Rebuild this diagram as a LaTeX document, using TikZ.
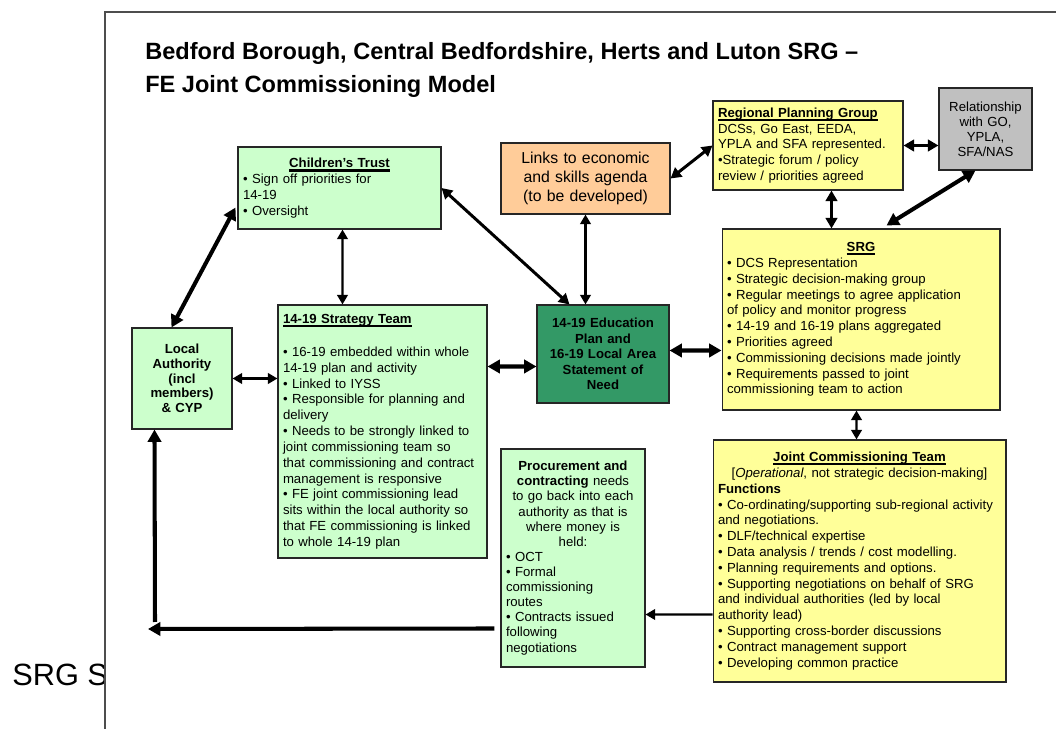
\documentclass[tikz,border=0pt]{standalone}
\usepackage{fontspec}
\setmainfont{Liberation Sans}
\usetikzlibrary{arrows.meta,calc}

% Box colours
\definecolor{paleyellow}{HTML}{FFFF99}
\definecolor{palegreen}{HTML}{CCFFCC}
\definecolor{paleorange}{HTML}{FFCC99}
\definecolor{boxgrey}{HTML}{C0C0C0}
\definecolor{plangreen}{HTML}{339966}
\definecolor{framegrey}{HTML}{4D4D4D}

% Bold heading with a heavy underline
\newcommand{\boxhead}[1]{\setbox0\hbox{\bfseries #1}\rlap{\rule[-2.2pt]{\wd0}{1.3pt}}\box0}

\tikzset{
    panel/.style={draw=black!85, line width=0.6pt, inner xsep=0.1cm, inner ysep=2pt,
        font=\fontsize{7.5}{9}\selectfont},
    link/.style={{Triangle[length=5.5pt,width=6pt]}-{Triangle[length=5.5pt,width=6pt]}, line width=1.4pt},
    midlink/.style={{Triangle[length=6pt,width=6.5pt]}-{Triangle[length=6pt,width=6.5pt]}, line width=1.7pt},
    biglink/.style={{Triangle[length=7pt,width=7.5pt]}-{Triangle[length=7pt,width=7.5pt]}, line width=2.3pt},
    onearrow/.style={-{Triangle[length=5.5pt,width=6pt]}, line width=1.2pt},
    bigarrow/.style={-{Triangle[length=7pt,width=7.5pt]}, line width=2.3pt}
}

\begin{document}
\begin{tikzpicture}[x=0.02cm, y=-0.02cm]

    % Fix the page to the size of the slide
    \useasboundingbox (0,0) rectangle (1056,729);
    \clip (0,0) rectangle (1056,729);

    % Caption on the left, partly hidden by the slide frame
    \node[anchor=base west, inner sep=0pt, font=\fontsize{17.5}{21}\selectfont] (caption) at (12,686) {SRG S};

    % The slide frame
    \draw[framegrey, line width=1.6pt, fill=white] (105,12) rectangle (1100,780);

    % Title, two lines
    \node[anchor=north west, inner sep=0pt, align=left, font=\bfseries\fontsize{13.4}{18.7}\selectfont] (title) at (145,42)
        {Bedford Borough, Central Bedfordshire, Herts and Luton SRG –\\FE Joint Commissioning Model};

    % Regional Planning Group (top right)
    \node[panel, fill=paleyellow, minimum width=3.8cm, minimum height=1.78cm, text width=3.6cm, align=left] (rpg) at (808,145.5)
        {\boxhead{Regional Planning Group}\\
         DCSs, Go East, EEDA,\\
         YPLA and SFA represented.\\
         •Strategic forum / policy\\
         review / priorities agreed};

    % Relationship box (grey)
    \node[panel, fill=boxgrey, minimum width=1.86cm, minimum height=1.64cm, text width=1.66cm, align=center,
        font=\fontsize{7.5}{8.6}\selectfont] (rel) at (985.5,129)
        {Relationship\\with GO,\\YPLA,\\SFA/NAS};

    % Children's Trust
    \node[panel, fill=palegreen, minimum width=4.06cm, minimum height=1.64cm, text width=3.86cm, align=left] (ct) at (339.5,188)
        {{\centering\boxhead{Children’s Trust}\par}
         • Sign off priorities for\\
         14-19\\
         • Oversight};

    % Links to economic and skills agenda
    \node[panel, fill=paleorange, minimum width=3.38cm, minimum height=1.42cm, text width=3.18cm, align=center,
        font=\fontsize{9}{10.8}\selectfont] (links) at (585.5,178.5)
        {Links to economic\\and skills agenda\\(to be developed)};

    % SRG
    \node[panel, fill=paleyellow, minimum width=5.56cm, minimum height=3.62cm, text width=5.36cm, align=left] (srg) at (861,319.5)
        {{\centering\boxhead{SRG}\par}
         • DCS Representation\\
         • Strategic decision-making group\\
         • Regular meetings to agree application\\
         of policy and monitor progress\\
         • 14-19 and 16-19 plans aggregated\\
         • Priorities agreed\\
         • Commissioning decisions made jointly\\
         • Requirements passed to joint\\
         commissioning team to action};

    % Local Authority
    \node[panel, fill=palegreen, minimum width=2cm, minimum height=2.02cm, text width=1.8cm, align=center,
        font=\bfseries\fontsize{7.5}{8.4}\selectfont] (la) at (182,378.5)
        {Local\\Authority\\(incl\\members)\\\& CYP};

    % 14-19 Strategy Team
    \node[panel, fill=palegreen, minimum width=4.18cm, minimum height=5.06cm, text width=3.98cm, align=left] (st) at (382.5,431.5)
        {\boxhead{14-19 Strategy Team}\\[10pt]
         • 16-19 embedded within whole\\
         14-19 plan and activity\\
         • Linked to IYSS\\
         • Responsible for planning and\\
         delivery\\
         • Needs to be strongly linked to\\
         joint commissioning team so\\
         that commissioning and contract\\
         management is responsive\\
         • FE joint commissioning lead\\
         sits within the local authority so\\
         that FE commissioning is linked\\
         to whole 14-19 plan};

    % 14-19 Education Plan (dark green)
    \node[panel, fill=plangreen, minimum width=2.64cm, minimum height=1.96cm, text width=2.44cm, align=center,
        font=\bfseries\fontsize{7.5}{8.9}\selectfont] (edu) at (603,354)
        {14-19 Education\\Plan and\\16-19 Local Area\\Statement of\\Need};

    % Procurement and contracting
    \node[panel, fill=palegreen, minimum width=2.88cm, minimum height=4.36cm, text width=2.68cm, align=left,
        font=\fontsize{7.5}{8.6}\selectfont] (proc) at (573,558)
        {{\centering\textbf{Procurement and}\\
          \textbf{contracting} needs\\
          to go back into each\\
          authority as that is\\
          where money is\\
          held:\par}
         • OCT\\
         • Formal\\
         commissioning\\
         routes\\
         • Contracts issued\\
         following\\
         negotiations};

    % Joint Commissioning Team
    \node[panel, fill=paleyellow, minimum width=5.86cm, minimum height=4.84cm, text width=5.66cm, align=left] (jct) at (859.5,561)
        {{\centering\boxhead{Joint Commissioning Team}\\\relax
          [\textit{Operational}, not strategic decision-making]\par}
         \textbf{Functions}\\
         • Co-ordinating/supporting sub-regional activity\\
         and negotiations.\\
         • DLF/technical expertise\\
         • Data analysis / trends / cost modelling.\\
         • Planning requirements and options.\\
         • Supporting negotiations on behalf of SRG\\
         and individual authorities (led by local\\
         authority lead)\\
         • Supporting cross-border discussions\\
         • Contract management support\\
         • Developing common practice};

    % Free ends of the return arrows
    \coordinate (back) at (148,629);
    \coordinate (up) at (155,622);

    % Connectors
    \draw[biglink] ($(la.north west)+(40,0)$) -- ($(ct.south west)+(-2,-22)$);
    \draw[link] ($(ct.south west)+(105,0)$) -- ($(st.north west)+(65,0)$);
    \draw[link] (la.east) -- (st.west |- la.east);
    \draw[biglink] ($(st.north east)+(0,62)$) -- ($(edu.north west)+(0,62)$);
    \draw[midlink] (ct.east) -- ($(edu.north west)+(33,0)$);
    \draw[link] (links.south) -- (links.south |- edu.north);
    \draw[midlink] (links.east) -- (rpg.west);
    \draw[midlink] (rpg.east) -- (rel.west |- rpg.east);
    \draw[midlink] ($(rpg.south west)+(119,0)$) -- ($(srg.north west)+(110,0)$);
    \draw[biglink] ($(rel.south west)+(37,0)$) -- ($(srg.north west)+(165,-3)$);
    \draw[biglink] ($(edu.north east)+(0,46)$) -- ($(srg.north west)+(0,122)$);
    \draw[link] ($(srg.south west)+(135,0)$) -- ($(jct.north west)+(144,0)$);
    \draw[onearrow] ($(jct.north west)+(0,175)$) -- ($(proc.north east)+(0,166)$);
    \draw[bigarrow] ($(proc.north west)+(-6,180)$) -- (back);
    \draw[bigarrow] (up) -- ($(la.south west)+(23,0)$);

\end{tikzpicture}
\end{document}
